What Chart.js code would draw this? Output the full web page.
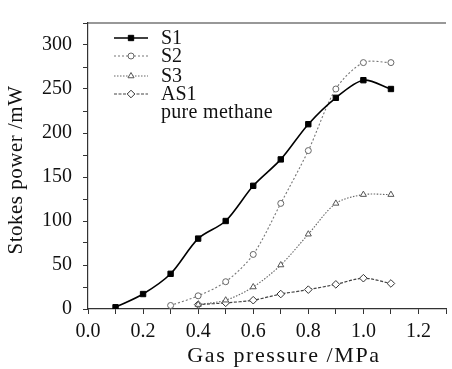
<!DOCTYPE html>
<html>
<head>
<meta charset="utf-8">
<script src="https://cdn.jsdelivr.net/npm/chart.js@4/dist/chart.umd.min.js"></script>
<style>
html,body{margin:0;padding:0;background:#fff;}
#wrap{width:452px;height:369px;position:relative;}
</style>
</head>
<body>
<div id="wrap"><canvas id="c" width="452" height="369"></canvas></div>
<script>
const pressure = [0.1, 0.2, 0.3, 0.4, 0.5, 0.6, 0.7, 0.8, 0.9, 1.0, 1.1];
const s1  = [2, 17, 40, 80, 100, 140, 170, 210, 240, 260, 250];
const s2  = [null, null, 4, 15, 31, 62, 120, 180, 250, 280, 280];
const s3  = [null, null, null, 5, 10, 25, 50, 85, 120, 130, 130];
const as1 = [null, null, null, 5, 7, 10, 17, 22, 28, 35, 29];
const seriesNames = ['S1', 'S2', 'S3', 'AS1'];
const legendNote = 'pure methane';
const xTitle = 'Gas pressure /MPa';
const yTitle = 'Stokes power /mW';

function pts(arr){
  const out = [];
  arr.forEach((v,i)=>{ if(v!==null) out.push({x: pressure[i], y: v}); });
  return out;
}

const FONT = '"Liberation Serif", "Times New Roman", serif';

const datasets = [
  {label: seriesNames[0], data: pts(s1), borderColor:'#000', backgroundColor:'#000', borderWidth:1.6,
   pointStyle:'rect', pointRadius:3.8, pointBorderColor:'#000', pointBackgroundColor:'#000', borderDash:[]},
  {label: seriesNames[1], data: pts(s2), borderColor:'#777', backgroundColor:'#fff', borderWidth:1.1,
   pointStyle:'circle', pointRadius:3, pointBorderColor:'#666', pointBackgroundColor:'#fff', borderDash:[2,2]},
  {label: seriesNames[2], data: pts(s3), borderColor:'#666', backgroundColor:'#fff', borderWidth:1.1,
   pointStyle:'triangle', pointRadius:3.5, pointBorderColor:'#555', pointBackgroundColor:'#fff', borderDash:[1.5,1.5]},
  {label: seriesNames[3], data: pts(as1), borderColor:'#444', backgroundColor:'#fff', borderWidth:1.2,
   pointStyle:'rectRot', pointRadius:3.8, pointBorderColor:'#333', pointBackgroundColor:'#fff', borderDash:[3,1.5]}
];
datasets.forEach(d=>{ d.tension = 0.3; d.fill = false; d.pointBorderWidth = 1; });

const framePlugin = {
  id: 'frameAndLegend',
  afterDraw(chart){
    const ctx = chart.ctx, a = chart.chartArea;
    ctx.save();
    ctx.strokeStyle = '#333'; ctx.lineWidth = 1.2;
    ctx.beginPath(); ctx.moveTo(a.left, a.top); ctx.lineTo(a.right, a.top); ctx.stroke();
    const rows = [38, 56, 76, 94];
    chart.data.datasets.forEach((ds, i)=>{
      const y = rows[i];
      ctx.save();
      ctx.strokeStyle = ds.borderColor; ctx.lineWidth = ds.borderWidth;
      ctx.setLineDash(ds.borderDash || []);
      ctx.beginPath(); ctx.moveTo(114, y); ctx.lineTo(148, y); ctx.stroke();
      ctx.setLineDash([]);
      ctx.fillStyle = ds.pointBackgroundColor; ctx.strokeStyle = ds.pointBorderColor; ctx.lineWidth = 1;
      Chart.helpers.drawPoint(ctx, {pointStyle: ds.pointStyle, radius: ds.pointRadius, borderWidth:1, rotation:0}, 131, y);
      ctx.restore();
      ctx.fillStyle = '#111'; ctx.font = '20px ' + FONT; ctx.textBaseline = 'middle'; ctx.textAlign = 'left';
      ctx.fillText(ds.label, 161, y + 1);
    });
    ctx.fillStyle = '#111'; ctx.font = '20px ' + FONT; ctx.textBaseline = 'middle'; ctx.textAlign = 'left';
    try { ctx.letterSpacing = '0.3px'; } catch(e){}
    ctx.fillText(legendNote, 161, 113);
    ctx.font = '22px ' + FONT; ctx.textAlign = 'center'; ctx.textBaseline = 'middle';
    try { ctx.letterSpacing = '1.6px'; } catch(e){}
    ctx.fillText(xTitle, 284, 356);
    try { ctx.letterSpacing = '0.5px'; } catch(e){}
    ctx.save();
    ctx.translate(16, 170); ctx.rotate(-Math.PI/2);
    ctx.font = '21px ' + FONT;
    ctx.fillText(yTitle, 0, 0);
    ctx.restore();
    try { ctx.letterSpacing = '0px'; } catch(e){}
    ctx.restore();
  }
};

new Chart(document.getElementById('c'), {
  type: 'line',
  data: { datasets },
  options: {
    responsive: false,
    animation: false,
    layout: { padding: { top: 13, right: 0, left: 0, bottom: 0 } },
    plugins: { legend: { display: false }, tooltip: { enabled: false } },
    scales: {
      x: {
        type: 'linear', min: 0, max: 1.3,
        afterFit(s){ s.height = 60; },
        border: { display: true, color: '#333', width: 1.2 },
        grid: { drawOnChartArea: false, drawTicks: true, tickLength: 5, color: '#333', lineWidth: 1 },
        ticks: {
          stepSize: 0.1, autoSkip: false, maxRotation: 0, padding: 6, color: '#111',
          font: { family: FONT, size: 20 },
          callback(v){ const r = Math.round(v*10); return (r % 2 === 0 && r <= 12) ? (r/10).toFixed(1) : ''; }
        }
      },
      y: {
        type: 'linear', min: 0, max: 325,
        afterFit(s){ s.width = 88; },
        border: { display: true, color: '#333', width: 1.2 },
        grid: { drawOnChartArea: false, drawTicks: true, tickLength: 5, color: '#333', lineWidth: 1 },
        ticks: {
          stepSize: 25, autoSkip: false, padding: 11, color: '#111',
          font: { family: FONT, size: 20 },
          callback(v){ return (v % 50 === 0 && v <= 300) ? String(v) : ''; }
        }
      }
    }
  },
  plugins: [framePlugin]
});
</script>
</body>
</html>
